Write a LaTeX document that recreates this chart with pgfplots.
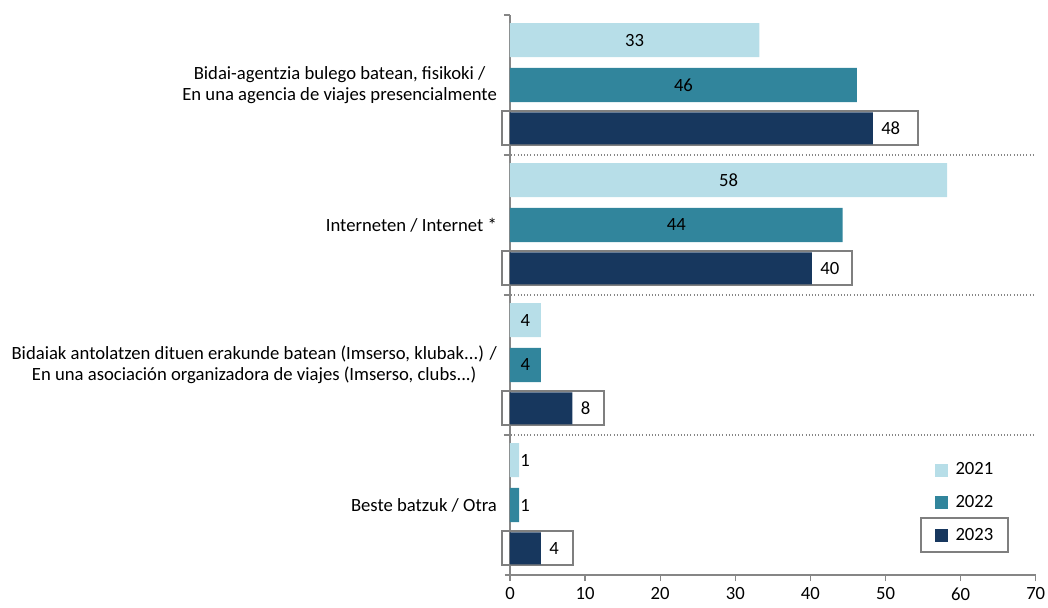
\documentclass[border=0pt]{standalone}
\usepackage{pgfplots}
\pgfplotsset{compat=1.18}
\usepackage{fontspec}
\setmainfont{Carlito}
\definecolor{c21}{HTML}{B7DEE8}
\definecolor{c22}{HTML}{31859C}
\definecolor{c23}{HTML}{17375E}
\definecolor{axgray}{HTML}{868686}
\definecolor{boxgray}{HTML}{7F7F7F}
\pgfplotsset{/pgf/number format/assume math mode=true}
\newcommand\labA{Bidai-agentzia bulego batean, fisikoki /\\En una agencia de viajes presencialmente}
\newcommand\labB{Interneten / Internet *}
\newcommand\labC{Bidaiak antolatzen dituen erakunde batean (Imserso, klubak.{}.{}.) /\\En una asociación organizadora de viajes (Imserso, clubs.{}.{}.)}
\newcommand\labD{Beste batzuk / Otra}
\begin{document}
\fontsize{14}{15.75}\selectfont
\begin{tikzpicture}
\begin{axis}[
  x=5.633pt, y=105pt,
  xmin=-0.7, xmax=70, ymin=0, ymax=4,
  axis x line=bottom, axis y line=middle,
  axis line style={axgray, line width=1pt, -},
  clip=false,
  tick align=outside,
  major tick length=4.5pt,
  minor tick length=0pt,
  tick style={axgray, line width=1pt},
  xtick={0,10,...,70},
  ytick={1,2,3,4},
  yticklabels={},
  minor ytick={1,2,3},
  yminorgrids,
  minor y grid style={axgray, dotted, line width=0.8pt},
  extra y ticks={0.5,1.5,2.5,3.5},
  extra y tick labels={{\labD},{\labC},{\labB},{\labA}},
  extra y tick style={major tick length=0pt, yticklabel style={align=center, anchor=east, xshift=-5pt}},
  xticklabel style={yshift=0pt},
  legend style={draw=none, fill=none, at={(0.8676,0.129)}, anchor=center,
    row sep=9.3pt, legend cell align=left, font=\fontsize{14}{15.75}\selectfont},
  legend entries={2021,2022,2023},
  visualization depends on={rawx \as \rawx},
  point meta=x,
  nodes near coords={\pgfmathprintnumber[fixed,precision=0]{\pgfplotspointmeta}},
]
% 2021
\addplot[xbar, bar width=0.243, bar shift=0pt, fill=c21, draw=none,
  nodes near coords style={anchor=center, text=black, xshift={ifthenelse(\rawx>3,-2.8165*\rawx,4.5)}},
  legend image code/.code={\fill[c21] (0pt,-4.9pt) rectangle (9.75pt,4.9pt); \path (13.5pt,0pt);}]
  coordinates {(33.2,3.82) (58.2,2.82) (4.1,1.82) (1.2,0.82)};
% 2022
\addplot[xbar, bar width=0.243, bar shift=0pt, fill=c22, draw=none,
  nodes near coords style={anchor=center, text=black, xshift={ifthenelse(\rawx>3,-2.8165*\rawx,4.5)}},
  legend image code/.code={\fill[c22] (0pt,-4.9pt) rectangle (9.75pt,4.9pt); \path (13.5pt,0pt);}]
  coordinates {(46.2,3.5) (44.3,2.5) (4.1,1.5) (1.2,0.5)};
% boxes around 2023 bars
\addplot[xbar, bar width=0.243, bar shift=0pt, fill=white, draw=boxgray, line width=1.5pt, forget plot, nodes near coords={}]
  coordinates {(54.3,3.19) (45.6,2.19) (12.5,1.19) (8.4,0.19)};
\addplot[xbar, bar width=0.243, bar shift=0pt, fill=white, draw=boxgray, line width=1.5pt, forget plot, nodes near coords={}]
  coordinates {(-1.1,3.19) (-1.1,2.19) (-1.1,1.19) (-1.1,0.19)};
% 2023
\addplot[xbar, bar width=0.228, bar shift=0pt, fill=c23, draw=none,
  nodes near coords style={anchor=west, text=black, xshift=1.5pt},
  legend image code/.code={\draw[overlay, draw=boxgray, fill=none, line width=1.5pt] (-10.5pt,-12.75pt) rectangle (54.75pt,12.75pt);
    \fill[c23] (0pt,-4.9pt) rectangle (9.75pt,4.9pt); \path (13.5pt,0pt);}]
  coordinates {(48.3,3.19) (40.2,2.19) (8.3,1.19) (4.1,0.19)};
\coordinate (O) at (axis cs:0,0);
\end{axis}
\pgfresetboundingbox
\path ([xshift=-382.5pt, yshift=-24pt]O) rectangle ++(786pt,455.25pt);
\end{tikzpicture}
\end{document}
